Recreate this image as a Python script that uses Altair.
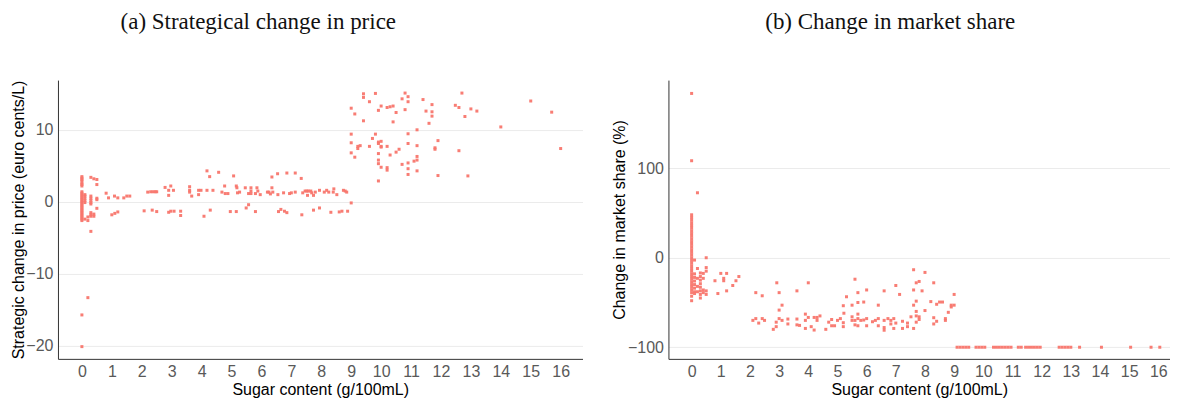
import altair as alt
import pandas as pd

# ---------------- Panel (a): strategic change in price ----------------
price_x = (
    [0.0] * 30
    + [0.1] * 6
    + [0.2] * 3
    + [0.3] * 10
    + [0.4] * 3
    + [0.5] * 5
    + [0.81, 0.89, 1.0, 1.09, 1.1, 1.2, 1.2, 1.4, 1.5, 1.6,
       2.08, 2.2, 2.3, 2.38, 2.45, 2.5, 2.35, 2.5, 2.78, 2.9, 2.9, 2.97, 2.97, 2.9,
       3.06, 3.08, 3.3, 3.3, 3.6, 3.6, 3.6, 3.67, 3.9, 3.9, 3.98,
       4.08, 4.18, 4.18, 4.27, 4.29, 4.38, 4.57, 4.68, 4.77, 4.79, 4.88, 4.96,
       5.07, 5.16, 5.16, 5.18, 5.2, 5.27, 5.46, 5.49, 5.57, 5.57, 5.65, 5.65, 5.65,
       5.8, 5.8, 5.85, 5.88, 5.96,
       6.2, 6.25, 6.3, 6.35, 6.35, 6.38, 6.54, 6.55, 6.57, 6.65, 6.74, 6.77, 6.85, 6.85, 6.94,
       7.0, 7.13, 7.13, 7.33, 7.35, 7.38, 7.46, 7.52, 7.54, 7.57, 7.65, 7.68, 7.74, 7.74, 7.8,
       7.94, 7.94, 8.1, 8.18, 8.25, 8.32, 8.4, 8.42, 8.52, 8.6, 8.69, 8.74, 8.8, 8.85, 8.88, 9.0,
       9.0, 9.12, 9.0, 9.0, 9.0, 9.12, 9.22, 9.22, 9.3, 9.41, 9.41, 9.41, 9.61, 9.61, 9.71,
       9.81, 9.81, 9.91, 9.91, 9.91, 9.91, 9.91, 9.91, 9.91,
       10.0, 10.0, 10.0, 10.0, 10.0, 10.2, 10.3, 10.4, 10.2, 10.2, 10.2, 10.3, 10.4, 10.5, 10.5,
       10.6, 10.7, 10.7, 10.8, 10.8, 10.9, 10.9, 10.9, 10.9, 10.9, 10.9, 10.9,
       11.1, 11.2, 11.2, 11.2, 11.2, 11.2, 11.4, 11.5, 11.6, 11.7, 11.7, 11.7, 11.8, 11.8,
       11.9, 11.9, 12.48, 12.6, 12.6, 12.7, 12.8, 12.9, 13.0, 13.2, 14.0, 15.0, 15.7, 16.0]
)
price_y = (
    [3.5, 3.3, 3.1, 2.9, 2.6, 2.4, 2.2, 1.4, 1.2, 1.0, 0.8, 0.6, 0.4, 0.2, 0.0,
     -0.2, -0.4, -0.6, -0.8, -1.0, -1.2, -1.4, -1.6, -1.8, -2.0, -2.2, -2.4, -2.6, -15.7, -20.1]
    + [1.0, 0.8, 0.5, 0.2, -0.1, -2.4]
    + [-2.1, -2.6, -13.3]
    + [3.4, 0.8, 0.5, 0.2, -0.1, -0.3, -1.5, -1.8, -2.0, -4.1]
    + [3.2, -1.7, -2.0]
    + [3.1, 2.4, 0.5, 0.3, -0.9]
    + [1.2, 0.55, -1.8, 0.8, -1.6, -1.4, 0.55, 0.55, 0.8, 0.8,
       -1.25, 1.35, 1.4, 1.4, 1.4, 1.4, -1.15, -1.35, 2.0, 0.9, 1.6, 2.2, -1.3, -1.45,
       1.6, -1.3, -1.3, -1.9, 2.1, 1.6, 1.35, 0.8, 1.6, 1.0, 1.6,
       -2.0, 4.3, 1.6, 3.5, -1.15, 1.6, 4.1, 1.35, 2.2, 1.15, 1.15, -1.35,
       3.6, 2.2, -1.35, 1.95, 1.25, 1.35, 1.95, -0.85, -0.4, 1.15, 1.95, 1.5, 1.15,
       1.15, -1.35, 1.95, 1.5, 1.0,
       1.35, 1.35, 1.1, 1.95, 3.45, 1.35, 3.9, 1.0, -1.35, -1.05, 1.25, -1.3, -1.5, 4.0, 1.15,
       1.25, 1.35, 4.0, 3.25, -1.8, 1.25, 1.5, 1.5, 0.9, 1.5, 1.5, 1.25, -1.15, 0.9, 1.35,
       -0.85, 1.6, 1.35, 1.6, 1.35, -1.45, 1.35, 1.8, 1.0, -1.4, -1.3, 1.6, 1.5, 1.35, -1.3, -0.15,
       13.0, 12.2, 9.4, 8.2, 6.8, 6.2, 7.7, 7.4, 7.8, 15.0, 14.5, 11.25, 13.9, 7.7, 8.8,
       15.05, 9.4, 12.7, 8.3, 8.1, 6.7, 5.8, 5.3, 2.9,
       13.3, 8.4, 7.7, 7.6, 4.8, 13.1, 13.2, 13.3, 7.7, 4.75, 4.4, 6.5, 11.1, 12.4, 6.9,
       7.3, 14.3, 5.2, 15.1, 12.8, 14.6, 13.9, 9.45, 8.1, 5.4, 4.6, 3.8,
       5.65, 10.0, 7.8, 6.3, 5.8, 4.3, 14.2, 12.6, 10.9, 13.5, 12.5, 11.9, 7.5, 7.3,
       8.5, 3.65, 13.4, 13.1, 7.1, 15.1, 11.85, 3.6, 12.9, 12.6, 10.4, 14.0, 12.45, 7.4]
)

# ---------------- Panel (b): change in market share ----------------
share_x = (
    [0.0] * 34
    + [0.1] * 8
    + [0.2] * 5
    + [0.3] * 8
    + [0.4] * 4
    + [0.5] * 5
    + [0.8, 0.9, 1.0, 1.1, 1.1, 1.2, 1.2, 1.41, 1.52, 1.62,
       2.1, 2.2, 2.2, 2.3, 2.42, 2.42, 2.5, 2.8, 2.9, 2.9, 2.92, 3.0, 3.0, 3.0, 3.1, 3.1,
       3.3, 3.3, 3.61, 3.61, 3.61, 3.7, 3.9, 3.9, 3.9, 4.0, 4.0, 4.1, 4.2, 4.2, 4.3, 4.3,
       4.4, 4.6, 4.7, 4.8, 4.8, 4.9, 5.0, 5.1, 5.2, 5.2, 5.2, 5.22, 5.31,
       5.5, 5.5, 5.5, 5.6, 5.6, 5.6, 5.7, 5.7, 5.7, 5.7, 5.7, 5.8, 5.9, 5.9,
       6.0, 6.0, 6.0, 6.2, 6.3, 6.4, 6.4, 6.4,
       6.6, 6.6, 6.6, 6.6, 6.73, 6.83, 6.83, 6.93, 6.93, 7.0, 7.0, 7.13, 7.23, 7.23,
       7.4, 7.4, 7.52, 7.61, 7.61, 7.61, 7.61, 7.7, 7.7, 7.7, 7.7, 7.7, 7.8, 7.8, 7.8,
       7.9, 8.0, 8.0, 8.2, 8.3, 8.3, 8.3, 8.4, 8.4, 8.5, 8.6, 8.7, 8.7, 8.8, 8.9, 8.9,
       9.0, 9.0,
       9.1, 9.2, 9.3, 9.4, 9.5, 9.75, 9.85, 9.95, 10.05, 10.35, 10.45, 10.55, 10.65,
       10.75, 10.85, 10.95, 11.2, 11.3, 11.45, 11.55, 11.65, 11.75, 11.85, 11.95,
       12.6, 12.7, 12.8, 12.9, 13.0, 13.3, 14.05, 15.05, 15.75, 16.05]
)
share_y = (
    [183.6, 108.4, 48, 45, 42, 39, 36, 33, 30, 27, 24, 21, 18, 15, 12, 9, 6, 3, 0,
     -3, -6, -9, -12, -15, -18, -21, -24, -27, -30, -33, -36, -39, -43, -48]
    + [-2.6, -18, -22, -26, -30, -34, -38, -40]
    + [72.6, -12, -23, -32, -38]
    + [-17, -21, -25, -29, -33, -37, -41, -45]
    + [-17.5, -23, -36, -39]
    + [0, -11, -15, -37, -41]
    + [-25.7, -40, -17.5, -23, -25.7, -17.5, -37, -31, -25.7, -21,
       -70, -39, -68, -73, -42.5, -68, -70, -80, -77, -72, -28, -68, -58.5, -39, -53, -70,
       -68.5, -74, -37, -68.5, -75, -75.6, -63, -70, -79, -28, -66.7, -77, -66.7, -80.8, -66.7, -70,
       -65, -80, -72, -69, -76, -76, -70, -68, -72.6, -77, -53.6, -62, -43.6,
       -53, -66, -70, -24, -70, -75, -39, -50, -63, -68, -76, -70, -49.5, -69.6,
       -36, -68, -76, -71.5, -70, -53, -68, -76,
       -37, -70, -78, -81, -68, -70, -74, -68, -79, -31, -73, -41, -71, -79,
       -73, -77, -66, -13.4, -36, -53, -79, -28, -48.5, -60, -65, -72, -26.5, -66, -69,
       -37, -16.4, -59, -49, -28, -67, -74, -52, -71, -49.5, -49.5, -70, -68, -61, -53, -55,
       -41, -53]
    + [-100] * 34
)

price_df = pd.DataFrame({"sugar": price_x, "value": price_y})
share_df = pd.DataFrame({"sugar": share_x, "value": share_y})

sugar_ticks = list(range(0, 17))
price_ticks = [-20, -10, 0, 10]
share_ticks = [-100, 0, 100]

POINT_COLOR = "#F8766D"
SANS = "Liberation Sans"
SERIF = "Liberation Serif"


def x_enc(domain):
    return alt.X(
        "sugar:Q",
        title="Sugar content (g/100mL)",
        scale=alt.Scale(domain=domain, nice=False, zero=False),
        axis=alt.Axis(values=sugar_ticks, grid=False, ticks=False, labelPadding=5,
                      titlePadding=2, format="d"),
    )


def y_axis(values, title, title_x):
    return alt.Axis(values=values, title=title, grid=True, ticks=False,
                    labelPadding=5, titleX=title_x, format="d")


left = alt.Chart(price_df).mark_square(size=9, color=POINT_COLOR, opacity=0.95).encode(
    x=x_enc([-0.8, 16.73]),
    y=alt.Y("value:Q", scale=alt.Scale(domain=[-21.8, 16.9], nice=False, zero=False),
            axis=y_axis(price_ticks, "Strategic change in price (euro cents/L)", -31)),
).properties(
    width=525, height=279,
    title=alt.TitleParams("(a) Strategical change in price", font=SERIF, fontSize=23,
                          fontWeight="normal", anchor="middle", dx=-62, offset=46,
                          color="#111111"),
)

right = alt.Chart(share_df).mark_square(size=9, color=POINT_COLOR, opacity=0.95).encode(
    x=x_enc([-0.795, 16.4]),
    y=alt.Y("value:Q", scale=alt.Scale(domain=[-113, 198.5], nice=False, zero=False),
            axis=y_axis(share_ticks, "Change in market share (%)", -41)),
).properties(
    width=502, height=279,
    title=alt.TitleParams("(b) Change in market share", font=SERIF, fontSize=23,
                          fontWeight="normal", anchor="middle", dx=-29, offset=46,
                          color="#111111"),
)

chart = alt.hconcat(left, right, spacing=28).properties(
    padding={"top": 2, "left": 2, "right": 0, "bottom": 0}
).configure_view(
    stroke=None
).configure_axis(
    labelFont=SANS, titleFont=SANS, labelFontSize=16, titleFontSize=16,
    labelColor="#595959", titleColor="#000000", titleFontWeight="normal",
    domainColor="#333333", domainWidth=1, gridColor="#EBEBEB", gridWidth=1,
)

chart.save("out.html", embed_options={"renderer": "svg", "actions": False})
